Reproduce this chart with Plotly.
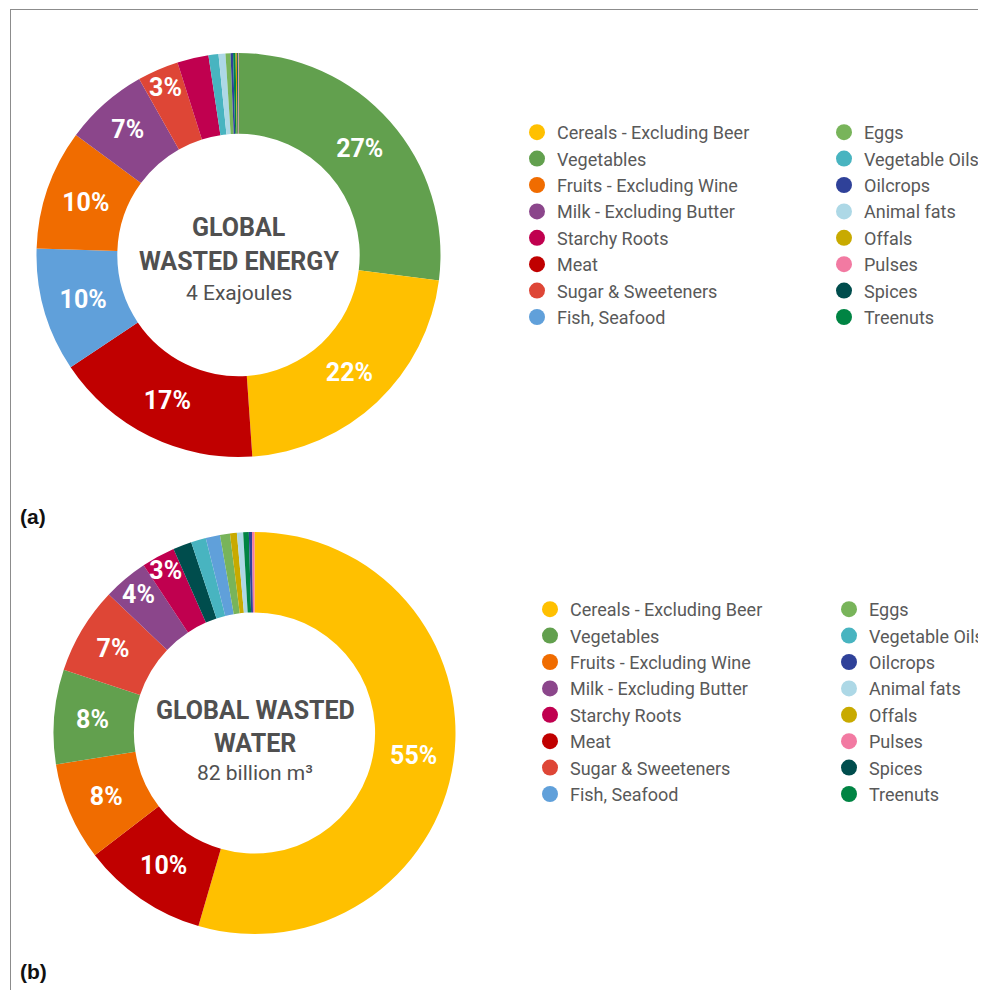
import plotly.graph_objects as go

# ---------------- data ----------------
categories = [
    "Cereals - Excluding Beer", "Vegetables", "Fruits - Excluding Wine", "Milk - Excluding Butter",
    "Starchy Roots", "Meat", "Sugar & Sweeteners", "Fish, Seafood",
    "Eggs", "Vegetable Oils", "Oilcrops", "Animal fats", "Offals", "Pulses", "Spices", "Treenuts",
]
colors = [
    "#FFC000", "#62A04E", "#F06C00", "#8B468B", "#C0004F", "#C00000", "#DE4636", "#60A0DA",
    "#78B45A", "#48B4C0", "#2F4199", "#ADD8E6", "#C8AA00", "#F27AA2", "#004D4D", "#008443",
]
# share of global wasted energy (%)
energy_share = [21.9, 27.0, 9.6, 6.7, 2.5, 16.7, 3.3, 9.9, 0.4, 0.8, 0.2, 0.55, 0.1, 0.05, 0.08, 0.2]
# share of global wasted water (%)
water_share = [54.5, 7.6, 7.9, 3.6, 2.7, 10.1, 7.0, 1.15, 0.8, 1.2, 0.25, 0.5, 0.55, 0.2, 1.5, 0.45]

energy_title = ["GLOBAL", "WASTED ENERGY"]
energy_sub = "4 Exajoules"
water_title = ["GLOBAL WASTED", "WATER"]
water_sub = "82 billion m³"

# the page has an 8px body margin: the figure fills the rest of the window
OFF = 8
W, H = 986 - OFF, 990 - OFF
FONT = "Roboto"
GREY = "#505050"
LEG_GREY = "#595959"
LABEL_SIZE = 25


def pct_labels(values, min_pct=2.6):
    total = sum(values)
    out = []
    for v in values:
        p = v / total * 100
        out.append(f"{p:.0f}%" if p >= min_pct else "")
    return out


def px_x(x):
    return (x - OFF) / W


def px_y(y):
    return 1 - (y - OFF) / H


fig = go.Figure()


def add_donut(values, cx, cy, r):
    fig.add_trace(go.Pie(
        labels=categories, values=values, hole=0.6, sort=True, direction="clockwise", rotation=0,
        marker=dict(colors=colors, line=dict(width=0)),
        text=pct_labels(values), textinfo="text", textposition="inside",
        insidetextorientation="horizontal",
        insidetextfont=dict(family=FONT, size=LABEL_SIZE, color="white", weight="bold"),
        domain=dict(x=[px_x(cx - r), px_x(cx + r)], y=[px_y(cy + r), px_y(cy - r)]),
        showlegend=False, hoverinfo="label+percent",
    ))


add_donut(energy_share, 238.5, 255, 202)
add_donut(water_share, 254.5, 733, 201)

# legend entries (dummy traces split into two columns per donut)
legend_names = ["legend", "legend2", "legend3", "legend4"]
for i, (cat, col) in enumerate(zip(categories, colors)):
    for block in range(2):
        lg = legend_names[block * 2 + (0 if i < 8 else 1)]
        fig.add_trace(go.Scatter(
            x=[None], y=[None], mode="markers", name=cat,
            marker=dict(color=col, size=16, symbol="circle"),
            legend=lg, showlegend=True, hoverinfo="skip",
        ))

leg_common = dict(
    font=dict(family=FONT, size=18, color=LEG_GREY), bgcolor="rgba(0,0,0,0)",
    xanchor="left", yanchor="top", orientation="v", itemclick=False, itemdoubleclick=False,
)
fig.update_layout(
    legend=dict(x=px_x(517), y=px_y(114), **leg_common),
    legend2=dict(x=px_x(824), y=px_y(114), **leg_common),
    legend3=dict(x=px_x(530), y=px_y(591), **leg_common),
    legend4=dict(x=px_x(829), y=px_y(591), **leg_common),
)

annotations = []


def center_text(cx, lines, ys, sub, ysub):
    for t, y in zip(lines, ys):
        annotations.append(dict(
            x=px_x(cx), y=px_y(y), xref="paper", yref="paper", text=t, showarrow=False,
            xanchor="center", yanchor="middle",
            font=dict(family=FONT, size=25, color=GREY, weight="bold"),
        ))
    annotations.append(dict(
        x=px_x(cx), y=px_y(ysub), xref="paper", yref="paper", text=sub, showarrow=False,
        xanchor="center", yanchor="middle", font=dict(family=FONT, size=21, color=GREY),
    ))


center_text(238.5, energy_title, [227, 261], energy_sub, 293)
center_text(255, water_title, [710, 743], water_sub, 773)

for lbl, y in [("(a)", 516), ("(b)", 971)]:
    annotations.append(dict(
        x=px_x(18), y=px_y(y), xref="paper", yref="paper", text=lbl, showarrow=False,
        xanchor="left", yanchor="middle",
        font=dict(family="Liberation Sans", size=21, color="#111111", weight="bold"),
    ))

shapes = [
    dict(type="line", xref="paper", yref="paper", x0=px_x(10), x1=1.0, y0=px_y(9.5), y1=px_y(9.5),
         line=dict(color="#8C8C8C", width=1)),
    dict(type="line", xref="paper", yref="paper", x0=px_x(10.5), x1=px_x(10.5), y0=0, y1=px_y(9.5),
         line=dict(color="#8C8C8C", width=1)),
]

fig.update_layout(
    width=W, height=H, margin=dict(l=0, r=0, t=0, b=0, autoexpand=False),
    paper_bgcolor="white", plot_bgcolor="rgba(0,0,0,0)",
    xaxis=dict(visible=False), yaxis=dict(visible=False),
    annotations=annotations, shapes=shapes, showlegend=True,
    uniformtext=dict(minsize=LABEL_SIZE, mode="show"),
    font=dict(family=FONT),
)

fig.write_html("out.html")
